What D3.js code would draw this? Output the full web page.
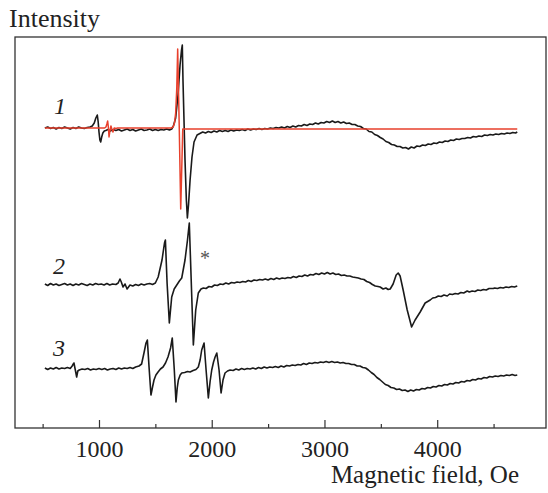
<!DOCTYPE html>
<html><head><meta charset="utf-8">
<script src="https://cdn.jsdelivr.net/npm/d3@7/dist/d3.min.js"></script>
<style>body{margin:0;background:#fff}svg{display:block}</style>
</head><body><svg id="c" width="548" height="493"></svg>
<script>
// Magnetic field ticks (Oe)
const majorTicks = [1000, 2000, 3000, 4000];
const minorTicks = [500, 1500, 2500, 3500, 4500];
const curveLabels = ["1", "2", "3"];
const curveOffsets = [300, 143, 58];   // vertical offsets of spectra (a.u.)

// spectrum 1, experimental [field Oe, intensity a.u.]
const spectrum1 = [[520,0],[545,1],[570,-0.5],[595,0.5],[620,-1],[645,0.5],[670,-0.5],[695,1],[720,0],[745,-1],[770,0.5],[795,-0.5],[820,1],[845,0],[870,-0.5],[895,0.5],[920,1],[940,2],[958,5],[972,10],[985,13],[993,6],[1000,-4],[1008,-12],[1015,-14],[1024,-9],[1034,-5],[1047,-3],[1060,-2.5],[1080,-1.5],[1100,-3],[1125,-1.5],[1150,-2.5],[1175,-1.5],[1200,-3],[1225,-2],[1250,-1],[1275,-2.5],[1300,-1.5],[1325,-3],[1350,-2],[1375,-1],[1400,-2.5],[1425,-2],[1450,-1],[1475,-2.5],[1500,-1.5],[1525,-2.5],[1550,-1.5],[1575,-2],[1600,-1],[1625,-2],[1645,-1],[1660,2],[1680,10],[1701,33],[1719,63],[1732,78],[1739,83],[1745,48],[1754,8],[1763,-32],[1775,-72],[1784,-90],[1794,-77],[1808,-52],[1825,-29],[1843,-14],[1870,-7],[1895,-5.5],[1920,-4],[1945,-5],[1970,-3.5],[1995,-4.5],[2020,-3],[2045,-4],[2070,-2.5],[2095,-3.5],[2120,-2.5],[2145,-3.5],[2170,-2],[2195,-3],[2220,-2],[2245,-2.5],[2270,-1.5],[2295,-2.5],[2320,-1],[2345,-2],[2370,-1],[2395,-1.5],[2420,-0.5],[2445,-1.5],[2470,-0.5],[2495,-1],[2520,0],[2545,-0.5],[2570,0.5],[2595,0],[2620,1],[2645,0],[2670,1.5],[2695,0.5],[2720,2],[2745,1],[2770,2.5],[2795,2],[2820,3.5],[2845,2.5],[2870,4],[2895,3.5],[2920,5],[2945,4],[2970,5.5],[2995,5],[3020,6.5],[3045,5.5],[3070,7],[3095,5.5],[3120,6.5],[3145,5],[3170,6],[3195,4.5],[3220,5],[3245,3.5],[3270,3.5],[3295,2],[3320,1.5],[3345,-0.5],[3370,-1],[3395,-3.5],[3420,-4],[3445,-6.5],[3470,-7.5],[3495,-9.5],[3520,-11],[3545,-13.5],[3570,-14.5],[3595,-16.5],[3620,-17],[3645,-18.5],[3670,-18.5],[3695,-20],[3720,-19.5],[3745,-21],[3770,-19],[3795,-20],[3820,-18],[3845,-18.5],[3870,-17],[3895,-17.5],[3920,-16],[3945,-16.5],[3970,-15],[3995,-15.5],[4020,-14],[4045,-14.5],[4070,-13],[4095,-13.5],[4120,-12],[4145,-12.5],[4170,-11],[4195,-11.5],[4220,-10.5],[4245,-10.5],[4270,-9.5],[4295,-10],[4320,-8.5],[4345,-9],[4370,-8],[4395,-8.5],[4420,-7],[4445,-7.5],[4470,-6.5],[4495,-7],[4520,-6],[4545,-6.5],[4570,-5.5],[4595,-6],[4620,-5],[4645,-5.5],[4670,-4.5],[4695,-5],[4710,-4]];

// spectrum 1, simulated (red)
const spectrum1Fit = [[520,0],[1050,0],[1062,1],[1070,4],[1077,7],[1083,1],[1089,-9],[1097,-3],[1106,2],[1114,-1],[1124,-4],[1135,0],[1151,-0.5],[1165,0],[1640,0],[1657,1],[1670,5],[1680,15],[1690,40],[1698,79],[1712,0],[1725,-81],[1743,-1],[4710,-1]];

// spectrum 2
const spectrum2 = [[520,1],[545,-0.5],[570,1.5],[595,0],[620,1],[645,-0.5],[670,0.5],[695,1.5],[720,0],[745,1],[770,-0.5],[795,1],[820,0],[845,1.5],[870,0.5],[895,-0.5],[920,1],[945,0],[970,1.5],[995,0.5],[1020,1],[1045,0],[1070,1.5],[1095,0],[1120,1],[1150,0.5],[1170,2],[1186,6],[1198,3],[1213,-2],[1231,1],[1249,-4],[1262,-2],[1275,0],[1300,-1],[1325,0.5],[1350,-0.5],[1375,1],[1400,0],[1425,1],[1450,1.5],[1475,0.5],[1500,2],[1525,8],[1559,25],[1581,42],[1589,45],[1604,2],[1624,-38],[1645,-12],[1667,-4],[1690,0],[1713,4],[1734,7],[1763,25],[1785,45],[1801,62],[1817,8],[1837,-60],[1858,-25],[1881,-8],[1905,-4],[1926,-3],[1950,-3.5],[1975,-1.5],[2000,-2],[2025,0],[2050,-0.5],[2075,1],[2100,0.5],[2125,2],[2150,1],[2175,2.5],[2200,2],[2225,3],[2250,2.5],[2275,3.5],[2300,3],[2325,4.5],[2350,3.5],[2375,5],[2400,4.5],[2425,5.5],[2450,5],[2475,6],[2500,5],[2525,6.5],[2550,5.5],[2575,7],[2600,6],[2625,7],[2650,6.5],[2675,7.5],[2700,7],[2725,8.5],[2750,7.5],[2775,9],[2800,8.5],[2825,10],[2850,9],[2875,10.5],[2900,10],[2925,11.5],[2950,10.5],[2975,12],[3000,11],[3025,12.5],[3050,11],[3075,12],[3100,10.5],[3125,11],[3150,9.5],[3175,10],[3200,9],[3225,9],[3250,8],[3275,7.5],[3300,7],[3325,6],[3350,5.5],[3375,3.5],[3400,2.5],[3425,0.5],[3450,-1],[3475,-1.5],[3494,-2],[3520,-4],[3545,-3],[3565,-4.5],[3583,-4],[3609,1],[3636,10],[3654,12],[3671,9],[3698,-5],[3734,-25],[3773,-42],[3804,-35],[3849,-27],[3893,-18],[3938,-15],[3960,-13],[3985,-12.5],[4010,-11],[4035,-11.5],[4060,-10],[4089,-11],[4110,-9],[4135,-9.5],[4160,-8.5],[4185,-9],[4210,-7.5],[4235,-8],[4266,-6],[4285,-7],[4310,-6],[4335,-6.5],[4360,-5],[4385,-5.5],[4410,-4.5],[4435,-5],[4460,-3.5],[4497,-3.5],[4510,-3],[4535,-3.5],[4560,-2.5],[4585,-3],[4610,-2],[4635,-2.5],[4660,-1.5],[4685,-2],[4710,-1]];

// spectrum 3
const spectrum3 = [[520,2],[545,0.5],[570,2],[595,1],[620,2.5],[645,1],[670,2],[695,1.5],[720,2.5],[745,1.5],[762,4],[772,6],[778,7],[790,0],[802,-7],[812,-1],[825,0],[850,1],[875,0.5],[900,1.5],[925,0],[950,1],[975,0.5],[1000,1.5],[1025,0.5],[1050,1.5],[1075,0],[1100,1],[1125,1.5],[1150,0.5],[1175,2],[1200,1],[1225,2],[1250,1.5],[1275,2.5],[1300,1.5],[1325,3],[1355,4],[1378,6],[1399,17],[1417,27],[1429,30],[1444,3],[1461,-25],[1475,-17],[1488,-10],[1505,-5],[1524,-2],[1545,1],[1568,3],[1590,7],[1612,13],[1635,22],[1650,32],[1668,0],[1683,-32],[1694,-18],[1704,-10],[1720,-5],[1734,-3],[1760,-2.5],[1785,-1.5],[1808,-2],[1835,-0.5],[1860,0.5],[1881,3],[1897,10],[1911,20],[1932,27],[1950,0],[1970,-28],[1985,-12],[2000,0],[2016,8],[2030,13],[2045,17],[2065,0],[2083,-23],[2100,-10],[2118,-3],[2140,-1],[2163,0],[2190,-0.5],[2215,1],[2240,0],[2265,1.5],[2290,0.5],[2315,1.5],[2340,1],[2365,2],[2390,1],[2415,2.5],[2440,1.5],[2465,3],[2490,2],[2515,3],[2540,2.5],[2565,3.5],[2590,2.5],[2615,4],[2640,3],[2665,4.5],[2690,4],[2715,5],[2740,4.5],[2765,5.5],[2790,5],[2815,6.5],[2840,5.5],[2865,7],[2890,6.5],[2915,7.5],[2940,7],[2965,8],[2990,7.5],[3015,8.5],[3040,7.5],[3065,8.5],[3090,7.5],[3115,8],[3140,7],[3165,7.5],[3190,6.5],[3215,6.5],[3240,5.5],[3265,5.5],[3290,4],[3315,4],[3340,2.5],[3365,2],[3390,0],[3415,-2.5],[3440,-4.5],[3465,-7.5],[3490,-9.5],[3515,-12],[3540,-14.5],[3565,-15.5],[3590,-17.5],[3615,-18],[3640,-19.5],[3665,-19],[3690,-20.5],[3715,-20],[3740,-21.5],[3765,-20],[3790,-21],[3815,-19.5],[3840,-20],[3865,-18.5],[3890,-19],[3915,-17.5],[3940,-18],[3965,-16.5],[3990,-17],[4015,-15.5],[4040,-16],[4065,-14.5],[4090,-15],[4115,-13.5],[4140,-14],[4165,-12.5],[4190,-13],[4215,-11.5],[4240,-12],[4265,-10.5],[4290,-11],[4315,-9.5],[4340,-10],[4365,-8.5],[4390,-9],[4415,-7.5],[4440,-8],[4465,-6.5],[4490,-7],[4515,-6],[4540,-6.5],[4565,-5.5],[4590,-6],[4615,-5],[4640,-5.5],[4665,-4.5],[4690,-5.5],[4710,-5]];

const FONT = "'Liberation Serif', 'Times New Roman', Tinos, 'DejaVu Serif', serif";
const svg = d3.select("#c");
const x = d3.scaleLinear().domain([255, 4965]).range([15, 546]);
const y = d3.scaleLinear().domain([0, 391]).range([428, 37]);

// minor and major ticks (inward)
svg.append("g").attr("transform","translate(0,428)")
  .call(d3.axisBottom(x).tickValues(minorTicks).tickSize(-4).tickFormat(""))
  .call(g=>{g.select(".domain").remove();g.selectAll("line").attr("stroke","#333").attr("stroke-width",1.2);});
svg.append("g").attr("transform","translate(0,428)")
  .call(d3.axisBottom(x).tickValues(majorTicks).tickSize(-8).tickPadding(12).tickFormat(d3.format("d")))
  .call(g=>{g.attr("font-family",null).attr("font-size",null);
    g.select(".domain").remove();g.selectAll("line").attr("stroke","#333").attr("stroke-width",1.2);
    g.selectAll("text").style("font-family",FONT).style("font-size","24px").attr("fill","#222");});

// frame
svg.append("rect").attr("x",x.range()[0]).attr("y",y.range()[1])
  .attr("width",x.range()[1]-x.range()[0]).attr("height",y.range()[0]-y.range()[1])
  .attr("fill","none").attr("stroke","#333").attr("stroke-width",1.3);

const line = off => d3.line().x(d=>x(d[0])).y(d=>y(d[1]+off));
const spectra = [spectrum1, spectrum2, spectrum3];
spectra.forEach((s,i)=>{
  svg.append("path").datum(s).attr("d",line(curveOffsets[i]))
    .attr("fill","none").attr("stroke","#1a1a1a").attr("stroke-width",1.6).attr("stroke-linejoin","round");
});
svg.append("path").datum(spectrum1Fit).attr("d",line(curveOffsets[0]))
  .attr("fill","none").attr("stroke","#e8402c").attr("stroke-width",1.5).attr("stroke-linejoin","round");

function txt(xp, yp, s, size, opts){
  const t = svg.append("text").attr("x",xp).attr("y",yp).text(s)
    .style("font-family",FONT).style("font-size",size+"px").attr("fill",(opts&&opts.fill)||"#222");
  if (opts&&opts.italic) t.style("font-style","italic");
  if (opts&&opts.anchor) t.attr("text-anchor",opts.anchor);
  return t;
}
// curve numbers
const labelPos = [[54,114],[53,274],[53,356]];
curveLabels.forEach((t,i)=> txt(labelPos[i][0], labelPos[i][1], t, 24, {italic:true}));
txt(200, 265, "*", 20, {fill:"#555"});
txt(9, 27, "Intensity", 26);
txt(519, 483, "Magnetic field, Oe", 25, {anchor:"end"});
</script></body></html>
